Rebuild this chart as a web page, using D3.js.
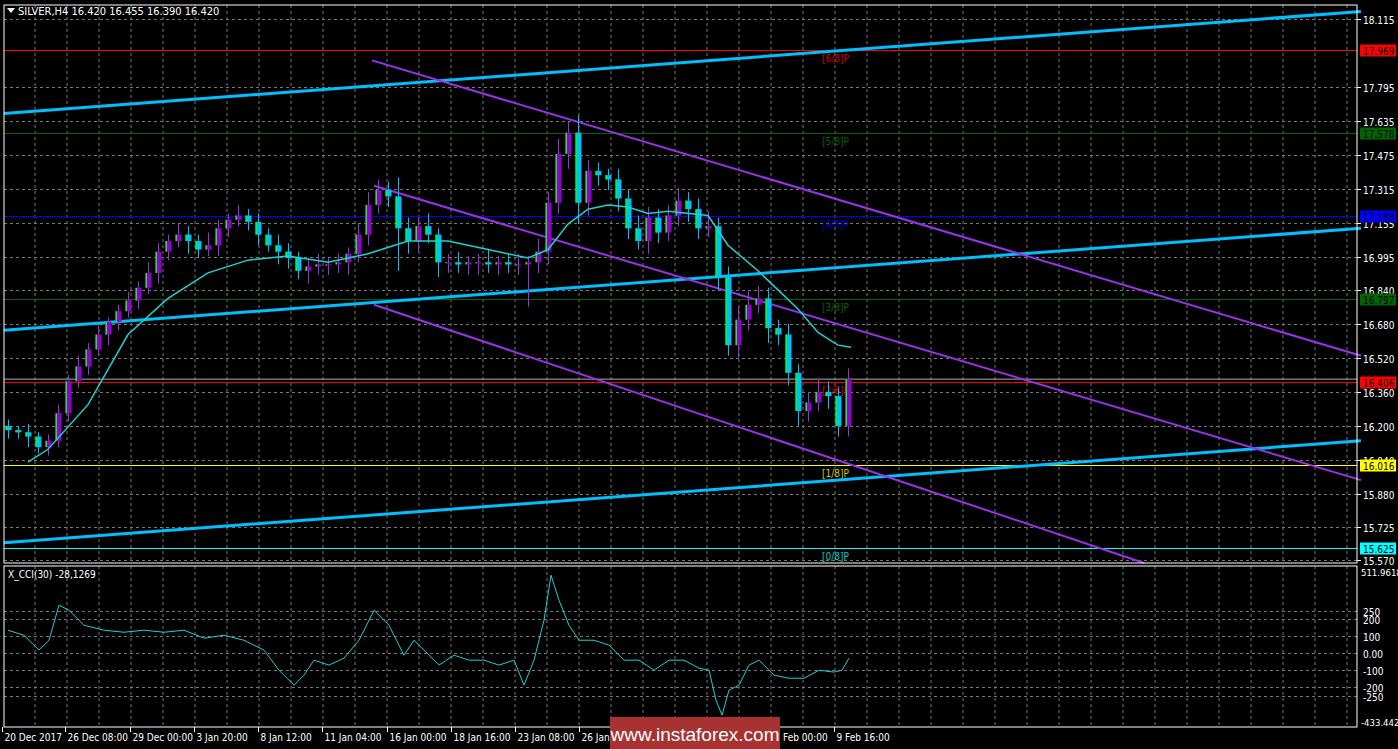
<!DOCTYPE html><html><head><meta charset="utf-8">
<script src="https://cdn.jsdelivr.net/npm/d3@7"></script>
<style>body{margin:0;background:#000}svg{display:block}</style></head><body>
<svg id="c" width="1398" height="749"></svg>
<script>
const closes=[16.18,16.17,16.15,16.10,16.13,16.26,16.41,16.48,16.56,16.63,16.69,16.74,16.79,16.85,16.92,17.02,17.07,17.10,17.07,17.03,17.05,17.13,17.17,17.19,17.16,17.10,17.05,17.02,16.99,16.93,16.95,16.96,16.96,16.97,17.01,17.10,17.24,17.31,17.28,17.13,17.07,17.14,17.10,16.97,16.97,16.96,16.97,16.97,16.96,16.97,16.96,16.96,16.97,17.02,17.25,17.48,17.58,17.25,17.40,17.38,17.36,17.27,17.13,17.07,17.18,17.11,17.19,17.26,17.22,17.13,17.14,16.90,16.58,16.70,16.77,16.80,16.66,16.63,16.45,16.27,16.31,16.36,16.34,16.20,16.42];
const firstOpen=16.20;
const upWick=[0.03,0.02,0.04,0.02,0.03,0.04,0.03,0.05,0.03,0.04,0.02,0.03,0.04,0.03,0.05,0.04,0.03,0.05,0.04,0.03,0.06,0.04,0.03,0.05,0.03,0.04,0.03,0.05,0.04,0.03,0.04,0.05,0.03,0.04,0.03,0.05,0.06,0.05,0.04,0.09,0.05,0.04,0.06,0.03,0.04,0.05,0.03,0.04,0.06,0.03,0.04,0.05,0.03,0.06,0.05,0.07,0.05,0.08,0.05,0.04,0.03,0.05,0.04,0.06,0.05,0.04,0.05,0.06,0.04,0.05,0.07,0.04,0.05,0.06,0.07,0.06,0.05,0.04,0.05,0.04,0.05,0.06,0.05,0.04,0.05];
const lowWick=[0.04,0.03,0.05,0.03,0.04,0.03,0.04,0.03,0.04,0.03,0.05,0.04,0.03,0.04,0.03,0.05,0.04,0.03,0.06,0.04,0.03,0.05,0.04,0.03,0.04,0.05,0.03,0.06,0.05,0.04,0.06,0.04,0.05,0.04,0.06,0.04,0.05,0.04,0.05,0.20,0.06,0.05,0.04,0.07,0.05,0.04,0.05,0.06,0.04,0.05,0.04,0.05,0.20,0.05,0.06,0.05,0.07,0.10,0.06,0.05,0.05,0.06,0.05,0.04,0.06,0.05,0.04,0.05,0.06,0.05,0.04,0.06,0.05,0.06,0.05,0.04,0.07,0.05,0.06,0.07,0.05,0.04,0.06,0.05,0.05];
const maBar=[2,4,8,12,16,20,24,28,32,36,40,44,48,52,54,56,58,60,62,64,66,70,72,75,77,79,81,83,84.3];
const maVal=[16.03,16.09,16.30,16.63,16.80,16.92,16.98,17.00,16.97,17.01,17.07,17.07,17.03,16.99,17.03,17.15,17.22,17.24,17.23,17.20,17.21,17.19,17.05,16.93,16.84,16.75,16.64,16.58,16.57];
const cciBar=[0,1.6,3.1,4.1,5.1,6.1,7.6,9.6,11.6,13.6,15.6,17.6,19.6,21.6,23.6,25.6,27.1,28.6,29.6,30.6,32.1,33.6,35.1,36.6,38.1,39.6,40.6,41.6,43.1,44.6,46.1,47.6,49.1,50.6,51.6,52.6,53.6,54.3,55.1,56.1,57.1,58.6,60.1,61.6,63.1,64.6,66.1,67.6,69.1,70.1,70.8,71.4,72.1,73.1,74.1,75.1,76.6,78.1,79.6,81.1,82.6,83.4,84.1];
const cciVal=[135,105,18,76,282,252,164,135,123,135,123,135,88,105,76,18,-100,-188,-129,-41,-70,-29,76,252,164,-12,76,18,-70,-12,-41,-41,-70,-41,-188,-41,194,458,311,164,76,76,47,-41,-41,-100,-41,-41,-88,-100,-276,-364,-217,-188,-70,-41,-129,-147,-147,-100,-111,-100,-29];
const trendBlue=[[ -0.4,17.67,135.3,18.15],[-0.4,16.65,135.3,17.13],[-0.4,15.65,135.3,16.13]];
const trendPurple=[[36.4,17.92,135.3,16.53],[36.6,17.33,135.3,15.945],[36.6,16.77,113.6,15.555]];
const levels=[17.969,17.578,17.188,16.797,16.406,16.016,15.625];
const levelNames=["[6/8]P","[5/8]P","[4/8]P","[3/8]P","[2/8]P","[1/8]P","[0/8]P"];
const levelColors=["#ff0000","#006400","#0000ff","#006400","#ff0000","#ffff00","#00ffff"];
const levelText=["#cc0000","#006400","#0000cc","#006400","#cc0000","#cccc00","#00cccc"];
const priceTicks=["18.115","17.795","17.635","17.475","17.315","17.155","16.995","16.840","16.680","16.520","16.360","16.200","16.040","15.880","15.725","15.570"];
const cciTicks=[250,200,100,0,-100,-200,-250];
const timeLabels=["20 Dec 2017","26 Dec 08:00","29 Dec 00:00","3 Jan 20:00","8 Jan 12:00","11 Jan 04:00","16 Jan 00:00","18 Jan 16:00","23 Jan 08:00","26 Jan 00:00","30 Jan 16:00","2 Feb 08:00","7 Feb 00:00","9 Feb 16:00"];
const timeBars=[-0.1,6.2,12.7,19.1,25.5,31.9,38.4,44.8,51.2,57.6,64.1,70.5,76.9,83.1];
const lastPrice=16.420;

const svg=d3.select("#c"),F="'DejaVu Sans Condensed','Liberation Sans Narrow',sans-serif";
const L=4,R=1357,T=5,B=563,CT=566,CB=727;
const x=d3.scaleLinear().domain([0,1]).range([8,18]);
const y=d3.scaleLinear().domain([16.016,17.969]).range([465,50]);
const yc=d3.scaleLinear().domain([-433.442,511.9618]).range([CB,CT]);
const g=svg.append("g");
const txt=(xx,yy,s,fill,size)=>g.append("text").attr("x",xx).attr("y",yy).attr("fill",fill||"#fff").attr("font-family",F).attr("font-size",size||10).text(s);
for(let gx=35;gx<R;gx+=32){g.append("line").attr("x1",gx).attr("x2",gx).attr("y1",T).attr("y2",B).attr("stroke","#777").attr("stroke-dasharray","3,3");
 g.append("line").attr("x1",gx).attr("x2",gx).attr("y1",CT).attr("y2",CB).attr("stroke","#777").attr("stroke-dasharray","3,3");}
priceTicks.forEach(t=>{const yy=Math.round(y(+t))+0.5;
 g.append("line").attr("x1",L).attr("x2",R).attr("y1",yy).attr("y2",yy).attr("stroke","#777").attr("stroke-dasharray","3,3");
 g.append("line").attr("x1",R).attr("x2",R+4).attr("y1",yy).attr("y2",yy).attr("stroke","#fff");
 txt(R+6,yy+4,t);});
cciTicks.forEach(t=>{const yy=Math.round(yc(t))+0.5;
 g.append("line").attr("x1",L).attr("x2",R).attr("y1",yy).attr("y2",yy).attr("stroke","#777").attr("stroke-dasharray","3,3");
 txt(R+6,yy+4,t===0?"0.00":t);});
txt(R+4,CT+10,"511.9618",null,9.5);
txt(R+4,CB-1,"-433.442",null,9.5);
levels.forEach((v,i)=>{const yy=Math.round(y(v))+0.5;
 g.append("line").attr("x1",L).attr("x2",R).attr("y1",yy).attr("y2",yy).attr("stroke",levelColors[i]);
 txt(822,yy+11,levelNames[i],levelText[i]);
 g.append("rect").attr("x",R+3).attr("y",yy-6).attr("width",36).attr("height",12).attr("fill",levelColors[i]);
 txt(R+6,yy+4,v.toFixed(3),"#000");});
g.append("line").attr("x1",L).attr("x2",R).attr("y1",y(lastPrice)).attr("y2",y(lastPrice)).attr("stroke","#aaa");
trendBlue.forEach(d=>g.append("line").attr("x1",x(d[0])).attr("y1",y(d[1])).attr("x2",x(d[2])).attr("y2",y(d[3])).attr("stroke","#00bfff").attr("stroke-width",3));
trendPurple.forEach(d=>g.append("line").attr("x1",x(d[0])).attr("y1",y(d[1])).attr("x2",x(d[2])).attr("y2",y(d[3])).attr("stroke","#9932e8").attr("stroke-width",2));
closes.forEach((c,i)=>{const o=i?closes[i-1]:firstOpen,up=c>=o;
 const hi=Math.max(o,c)+upWick[i],lo=Math.min(o,c)-lowWick[i],cx=Math.round(x(i))+0.5;
 g.append("line").attr("x1",cx).attr("x2",cx).attr("y1",y(hi)).attr("y2",y(lo)).attr("stroke",up?"#9b30e0":"#00bfff");
 const yt=y(Math.max(o,c)),yb=y(Math.min(o,c));
 g.append("rect").attr("x",cx-3).attr("width",6).attr("y",yt).attr("height",Math.max(1,yb-yt)).attr("fill",up?"#9400d3":"#00bfff");
 g.append("rect").attr("x",cx-3).attr("width",1.5).attr("y",yt).attr("height",Math.max(1,yb-yt)).attr("fill","#00ff00");});
g.append("path").attr("d",d3.line().x((d,i)=>x(maBar[i])).y(d=>y(d))(maVal)).attr("fill","none").attr("stroke","#20d0d0").attr("stroke-width",1.5);
g.append("path").attr("d",d3.line().x((d,i)=>x(cciBar[i])).y(d=>yc(d))(cciVal)).attr("fill","none").attr("stroke","#20d0d0").attr("stroke-width",1);
g.append("rect").attr("x",L).attr("y",T).attr("width",R-L).attr("height",B-T).attr("fill","none").attr("stroke","#fff");
g.append("rect").attr("x",L).attr("y",CT).attr("width",R-L).attr("height",CB-CT).attr("fill","none").attr("stroke","#fff");
timeLabels.forEach((t,i)=>{const tx=Math.round(x(timeBars[i]))-4.5;
 g.append("line").attr("x1",tx).attr("x2",tx).attr("y1",CB).attr("y2",CB+5).attr("stroke","#fff");
 txt(tx+2,741,t);});
g.append("path").attr("d","M7,8 L15,8 L11,13 Z").attr("fill","#fff");
txt(18,15,"SILVER,H4  16.420 16.455 16.390 16.420",null,11);
txt(8,578,"X_CCI(30) -28,1269");
g.append("rect").attr("x",610).attr("y",717).attr("width",170).attr("height",32).attr("fill","#a83232");
g.append("text").attr("x",695).attr("y",741).attr("text-anchor","middle").attr("fill","#fff").attr("font-family","'Liberation Sans',sans-serif").attr("font-size",19).text("www.instaforex.com");
</script></body></html>
